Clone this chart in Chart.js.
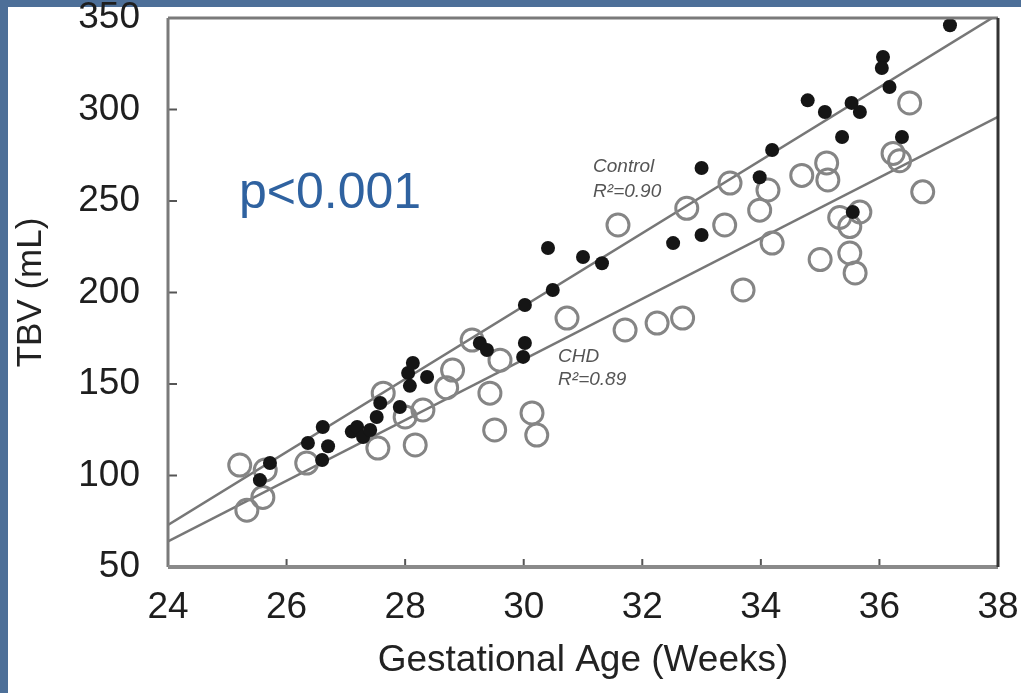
<!DOCTYPE html>
<html>
<head>
<meta charset="utf-8">
<script src="https://cdn.jsdelivr.net/npm/chart.js@4.4.1/dist/chart.umd.min.js"></script>
<style>
  html, body { margin: 0; padding: 0; }
  body { width: 1021px; height: 693px; background: #4d6f98; position: relative; overflow: hidden; }
  #sheet { position: absolute; left: 8px; top: 7px; right: 0; bottom: 0; background: #fff; }
  #chart { position: absolute; left: 0; top: 0; }
  #pval { position: absolute; left: 239px; top: 166px; font: 50px "Liberation Sans", Arial, sans-serif; line-height: 50px; color: #2f62a0; }
</style>
</head>
<body>
<div id="sheet"></div>
<canvas id="chart" width="1021" height="693"></canvas>
<div id="pval">p&lt;0.001</div>
<script>
// Control group (filled dots)
const controlWeeks = [25.55, 25.72, 26.36, 26.61, 26.6, 26.7, 27.1, 27.19, 27.29, 27.41, 27.52, 27.58, 27.91,
  28.05, 28.13, 28.37, 28.08, 29.26, 29.38, 30.02, 29.99, 30.02, 30.49, 30.41, 31.0, 31.32, 32.52, 33.0,
  33.0, 33.98, 34.19, 34.79, 35.08, 35.53, 35.67, 35.37, 36.38, 36.06, 36.04, 36.17, 37.19, 35.55];
const controlTBV = [97.5, 106.8, 117.8, 126.5, 108.5, 116, 124, 126.5, 121, 124.9, 132, 139.6, 137.4,
  156, 161.5, 153.8, 149, 172.4, 168.6, 172.4, 164.8, 193.2, 201.4, 224.3, 219.4, 216, 227, 231.4,
  268, 263, 277.9, 305, 298.6, 303.6, 298.6, 285, 285, 328.7, 322.7, 312.3, 346, 244];

// CHD group (open circles)
const chdWeeks = [25.21, 25.33, 25.6, 25.64, 26.34, 27.54, 28.17, 27.63, 28.3, 28.0, 28.7, 28.8, 29.13,
  29.43, 29.51, 30.14, 30.22, 29.6, 30.73, 31.71, 32.25, 32.68, 31.59, 33.39, 32.75, 33.48, 34.12, 33.98,
  34.69, 34.19, 33.7, 35.0, 36.51, 36.23, 36.34, 36.73, 35.11, 35.13, 35.33, 35.67, 35.5, 35.5, 35.59];
const chdTBV = [105.7, 81, 88, 103, 106.8, 115, 116.7, 145, 135.8, 132, 148, 157.6, 174,
  145, 124.9, 134.2, 122.1, 163, 186, 179.5, 183.3, 186, 236.9, 236.9, 246, 259.8, 256, 245,
  264, 227, 201.4, 218, 303.6, 276, 272, 255, 270.8, 261.5, 241, 244, 236, 221.6, 210.7];

// regression line end points (weeks 24 and 38)
const fitWeeks = [24, 38];
const controlFit = [73, 352];
const chdFit = [64, 296];

const xTicks = [24, 26, 28, 30, 32, 34, 36, 38];
const yTicks = [50, 100, 150, 200, 250, 300, 350];

const pts = (xs, ys) => xs.map((x, i) => ({ x: x, y: ys[i] }));

const frame = {
  id: 'frame',
  afterDatasetsDraw(chart) {
    const { ctx, chartArea: a, scales: { x, y } } = chart;
    ctx.save();
    // inward tick marks
    ctx.strokeStyle = '#555';
    ctx.lineWidth = 2;
    xTicks.slice(1, -1).forEach(v => {
      const px = x.getPixelForValue(v);
      ctx.beginPath(); ctx.moveTo(px, a.bottom); ctx.lineTo(px, a.bottom - 8); ctx.stroke();
    });
    yTicks.slice(1, -1).forEach(v => {
      const py = y.getPixelForValue(v);
      ctx.beginPath(); ctx.moveTo(a.left, py); ctx.lineTo(a.left + 9, py); ctx.stroke();
    });
    // box
    ctx.lineWidth = 3;
    ctx.strokeStyle = '#7a7a7a';
    ctx.beginPath();
    ctx.moveTo(a.left, a.top); ctx.lineTo(a.right, a.top);
    ctx.moveTo(a.left, a.top); ctx.lineTo(a.left, a.bottom);
    ctx.stroke();
    ctx.lineWidth = 4;
    ctx.strokeStyle = '#8a8a8a';
    ctx.beginPath(); ctx.moveTo(a.left, a.bottom); ctx.lineTo(a.right, a.bottom); ctx.stroke();
    ctx.lineWidth = 3;
    ctx.strokeStyle = '#333';
    ctx.beginPath(); ctx.moveTo(a.right, a.top); ctx.lineTo(a.right, a.bottom); ctx.stroke();

    // fit labels
    ctx.fillStyle = '#555';
    ctx.textBaseline = 'top';
    ctx.font = 'italic 19px "Liberation Sans", Arial, sans-serif';
    const cx = x.getPixelForValue(31.17), cy = y.getPixelForValue(274);
    ctx.fillText('Control', cx, cy);
    ctx.fillText('R\u00b2=0.90', cx, cy + 25);
    const hx = x.getPixelForValue(30.58), hy = y.getPixelForValue(170);
    ctx.fillText('CHD', hx, hy);
    ctx.fillText('R\u00b2=0.89', hx, hy + 23);
    ctx.restore();
  }
};

const font = size => ({ family: '"Liberation Sans", Arial, sans-serif', size: size });

new Chart(document.getElementById('chart'), {
  type: 'scatter',
  data: {
    datasets: [
      {
        label: 'Control',
        data: pts(controlWeeks, controlTBV),
        pointRadius: 7,
        pointBackgroundColor: '#151515',
        pointBorderWidth: 0,
        order: 0
      },
      {
        label: 'CHD',
        data: pts(chdWeeks, chdTBV),
        pointRadius: 11,
        pointBackgroundColor: 'rgba(0,0,0,0)',
        pointBorderColor: '#858585',
        pointBorderWidth: 3,
        order: 1
      },
      {
        type: 'line',
        label: 'Control fit',
        data: pts(fitWeeks, controlFit),
        borderColor: '#777',
        borderWidth: 2.5,
        pointRadius: 0,
        order: 2
      },
      {
        type: 'line',
        label: 'CHD fit',
        data: pts(fitWeeks, chdFit),
        borderColor: '#777',
        borderWidth: 2.5,
        pointRadius: 0,
        order: 2
      }
    ]
  },
  options: {
    responsive: false,
    animation: false,
    events: [],
    layout: { padding: { top: 18, right: 23, bottom: 0, left: 0 } },
    plugins: { legend: { display: false }, tooltip: { enabled: false } },
    scales: {
      x: {
        type: 'linear',
        min: 24,
        max: 38,
        afterBuildTicks: s => { s.ticks = xTicks.map(v => ({ value: v })); },
        afterFit: s => { s.height = 126; s.paddingLeft = 0; s.paddingRight = 0; },
        grid: { display: false },
        border: { display: false },
        ticks: { color: '#1e1e1e', padding: 14, font: Object.assign(font(37), { lineHeight: 1 }) },
        title: {
          display: true,
          text: 'Gestational Age (Weeks)',
          color: '#222',
          font: font(37),
          padding: { top: 0, bottom: 10 }
        }
      },
      y: {
        min: 50,
        max: 350,
        afterBuildTicks: s => { s.ticks = yTicks.map(v => ({ value: v })); },
        afterFit: s => { s.width = 168; s.paddingTop = 0; s.paddingBottom = 0; },
        grid: { display: false },
        border: { display: false },
        ticks: { color: '#1e1e1e', padding: 20, font: Object.assign(font(37), { lineHeight: 0.9 }) },
        title: {
          display: true,
          text: 'TBV (mL)',
          color: '#222',
          font: font(35),
          padding: { top: 10, bottom: 0 }
        }
      }
    }
  },
  plugins: [frame]
});
</script>
</body>
</html>
